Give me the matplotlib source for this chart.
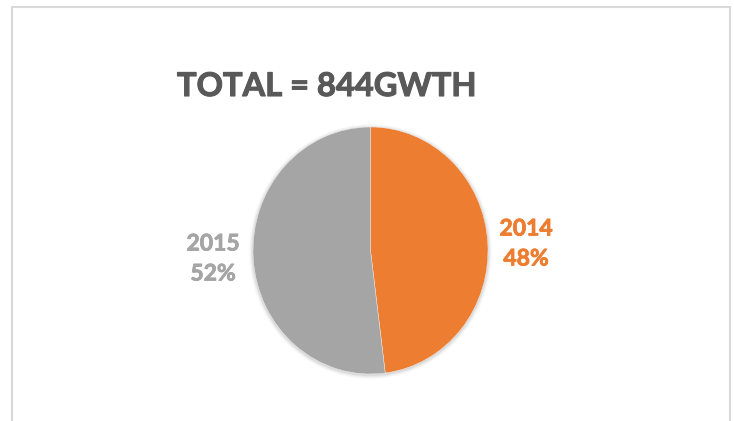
import matplotlib
matplotlib.use("Agg")
import matplotlib.pyplot as plt
import matplotlib.patheffects as pe
from matplotlib.patches import Ellipse

# data
years = ["2014", "2015"]
shares = [48, 52]
colors = ["#ED7D31", "#A5A5A5"]
title = "TOTAL = 844GWTH"

W, H = 734, 421
fig = plt.figure(figsize=(W / 100, H / 100), dpi=100)
fig.patch.set_facecolor("white")

# background layer in pixel coords (border + text)
bg = fig.add_axes([0, 0, 1, 1])
bg.set_xlim(0, W)
bg.set_ylim(H, 0)
bg.axis("off")

border = "#D9D9D9"
bg.plot([12, 12, 730, 730], [H, 7, 7, H], color=border, lw=1.5,
        solid_joinstyle="miter")


def thicker(c, w):
    # Lato Bold is a bit light next to the original's font
    return [pe.Stroke(linewidth=w, foreground=c), pe.Normal()]


bg.text(177, 96, title, fontsize=23.5, fontweight="bold", family="Lato",
        color="#595959", ha="left", va="baseline",
        path_effects=thicker("#595959", 0.8))

# pie area (slightly taller than wide, as in the original)
px0, py0, px1, py1 = 253, 127, 488, 374

# soft shadow around the pie
cx, cy = (px0 + px1) / 2, (py0 + py1) / 2
for i, a in enumerate([0.05, 0.04, 0.03, 0.02]):
    bg.add_patch(Ellipse((cx, cy + 1), (px1 - px0) + 2 + 2 * i,
                         (py1 - py0) + 2 + 2 * i, color="black",
                         alpha=a, lw=0))

ax = fig.add_axes([px0 / W, 1 - py1 / H, (px1 - px0) / W, (py1 - py0) / H])
ax.pie(shares, colors=colors, startangle=90, counterclock=False,
       radius=1, wedgeprops=dict(linewidth=0.3, edgecolor="#f0f0f0"))
ax.set_xlim(-1, 1)
ax.set_ylim(-1, 1)
ax.set_aspect("auto")

# data labels
label_pos = [(526, 229), (213, 244)]
for (x, y), yr, v, c in zip(label_pos, years, shares, colors):
    for dy, s in [(0, yr), (30, f"{v}%")]:
        bg.text(x, y + dy, s, fontsize=16.5, fontweight="bold", family="Lato",
                color=c, ha="center", va="center",
                path_effects=thicker(c, 0.6))

fig.savefig("out.png", dpi=100)
